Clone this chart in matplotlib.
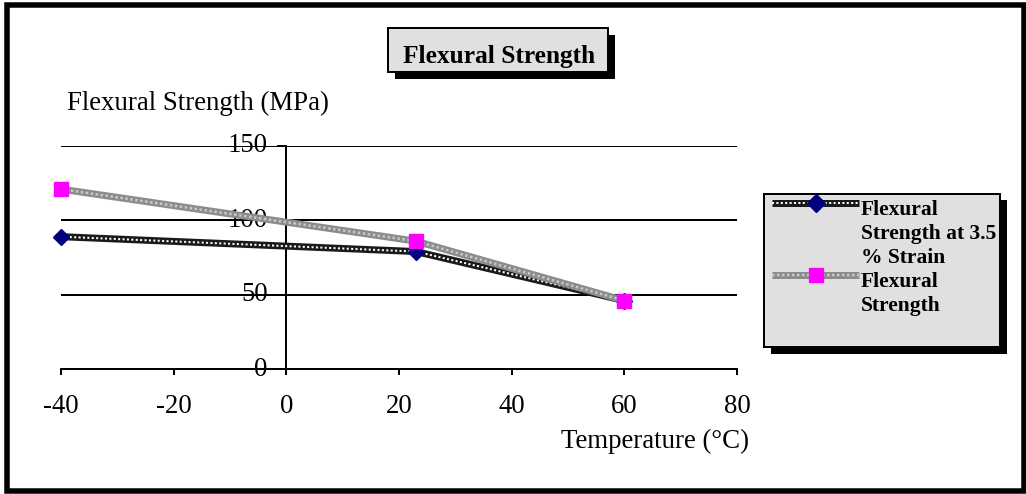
import matplotlib
matplotlib.use("Agg")
import matplotlib.pyplot as plt
from matplotlib.patches import Rectangle
from matplotlib.lines import Line2D

# ---- data ----
temperature = [-40, 23, 60]
strength_35_strain = [89, 79, 46]
flexural_strength = [121, 86, 46]
x_ticks = [-40, -20, 0, 20, 40, 60, 80]
y_ticks = [0, 50, 100, 150]
series_names = ["Flexural\nStrength at 3.5\n% Strain", "Flexural\nStrength"]
title_text = "Flexural Strength"
xlabel_text = "Temperature (°C)"
ylabel_text = "Flexural Strength (MPa)"

W, H = 1026, 494
DPI = 100
fig = plt.figure(figsize=(W / DPI, H / DPI), dpi=DPI)
plt.rcParams['font.family'] = ['Liberation Serif', 'DejaVu Serif']

PT = 72.0 / DPI  # points per pixel


def fx(px):
    return px / W


def fy(py):
    return 1 - py / H


def frect(x0, y0, x1, y1, **kw):
    return Rectangle((fx(x0), fy(y1)), fx(x1) - fx(x0), (y1 - y0) / H,
                     transform=fig.transFigure, **kw)


# outer border
fig.patches.append(frect(7, 5.5, 1023.5, 491, fill=False, edgecolor='black',
                         linewidth=5.5 * PT, zorder=0))

# axes
ax = fig.add_axes([fx(61), fy(369), fx(737) - fx(61), (369 - 146) / H])
ax.set_xlim(-40, 80)
ax.set_ylim(0, 150)
ax.patch.set_alpha(0)
for s in ['top', 'right']:
    ax.spines[s].set_visible(False)
ax.spines['left'].set_position(('data', 0))
ax.spines['left'].set_linewidth(2 * PT)
ax.spines['bottom'].set_linewidth(2 * PT)
ax.set_xticks(x_ticks)
ax.set_yticks(y_ticks)
ax.set_xticklabels([str(v) for v in x_ticks])
ax.set_yticklabels([str(v) for v in y_ticks])
ax.tick_params(axis='x', direction='out', length=6 * PT, width=2 * PT,
               labelsize=19.3, pad=14)
ax.tick_params(axis='y', direction='out', length=9 * PT, width=2 * PT,
               labelsize=19.3, pad=19 * PT * 0.5)
for lab in ax.get_yticklabels():
    lab.set_verticalalignment('center')
ax.yaxis.grid(True, color='black', linewidth=2 * PT)
ax.set_axisbelow(True)

# series lines with textured look
ax.plot(temperature, strength_35_strain, color='#1a1a1a', linewidth=7 * PT,
        solid_capstyle='butt', zorder=3)
ax.plot(temperature, strength_35_strain, color='white', linewidth=2 * PT,
        linestyle=(0, (1, 1.2)), zorder=3.1)
ax.plot(temperature, strength_35_strain, linestyle='none', marker='D',
        markersize=11.5 * PT, color='#000080', zorder=4, clip_on=False)

ax.plot(temperature, flexural_strength, color='#8c8c8c', linewidth=7 * PT,
        solid_capstyle='butt', zorder=5)
ax.plot(temperature, flexural_strength, color='#c8c8c8', linewidth=2.5 * PT,
        linestyle=(0, (1, 1)), zorder=5.1)
ax.plot(temperature, flexural_strength, linestyle='none', marker='s',
        markersize=14.5 * PT, color='#FF00FF', zorder=6, clip_on=False)

# axis labels
fig.text(fx(67), fy(103), ylabel_text, fontsize=19.4, ha='left', va='center')
fig.text(fx(749), fy(441), xlabel_text, fontsize=19.4, ha='right', va='center')

# title box with shadow
fig.patches.append(frect(395, 35, 615, 79, facecolor='black', edgecolor='black',
                         linewidth=0, zorder=1))
fig.patches.append(frect(388, 28, 608, 72, facecolor='#e0e0e0', edgecolor='black',
                         linewidth=2 * PT, zorder=2))
fig.text(fx(499), fy(56), title_text, fontsize=18.3, fontweight='bold',
         ha='center', va='center', zorder=3)

# legend box with shadow
fig.patches.append(frect(771, 200, 1007, 354, facecolor='black', edgecolor='black',
                         linewidth=0, zorder=1))
fig.patches.append(frect(764, 194, 1000, 347, facecolor='#e0e0e0', edgecolor='black',
                         linewidth=2 * PT, zorder=2))


def legend_glyph(y, base, over, overlw, overls, marker, msize, mcolor):
    fig.lines.append(Line2D([fx(772), fx(859)], [fy(y), fy(y)], color=base,
                            linewidth=7 * PT, solid_capstyle='butt',
                            transform=fig.transFigure, zorder=3))
    fig.lines.append(Line2D([fx(772), fx(859)], [fy(y), fy(y)], color=over,
                            linewidth=overlw, linestyle=overls,
                            transform=fig.transFigure, zorder=3.1))
    fig.lines.append(Line2D([fx(816)], [fy(y)], linestyle='none', marker=marker,
                            markersize=msize, color=mcolor,
                            transform=fig.transFigure, zorder=4))


legend_glyph(203, '#1a1a1a', 'white', 2 * PT, (0, (1, 1.2)), 'D', 12.5 * PT, '#000080')
legend_glyph(275, '#8c8c8c', '#c8c8c8', 2.5 * PT, (0, (1, 1)), 's', 14.5 * PT, '#FF00FF')

line_ys = [[210, 234, 258], [282, 306]]
for name, ys in zip(series_names, line_ys):
    for txt, y in zip(name.split("\n"), ys):
        fig.text(fx(861), fy(y), txt, fontsize=15.5, fontweight='bold',
                 ha='left', va='center', zorder=5)

fig.savefig("out.png", dpi=DPI)
